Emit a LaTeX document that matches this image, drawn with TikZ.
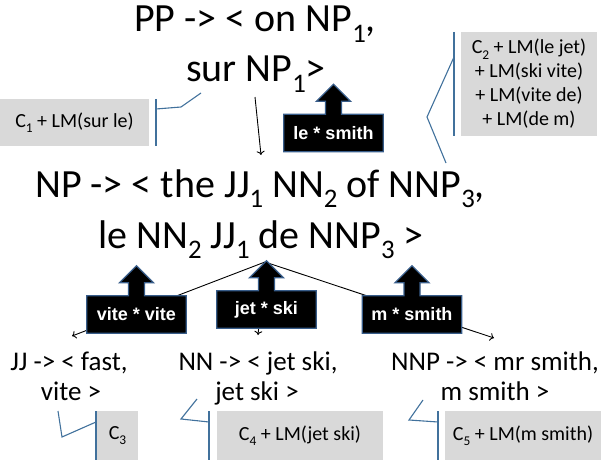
\documentclass[tikz,border=0pt]{standalone}
\usepackage{fontspec}
\usepackage{graphicx}
\setmainfont{Carlito}
\newfontfamily\arialfont{Liberation Sans}
\usetikzlibrary{arrows.meta}

\definecolor{calloutblue}{HTML}{41719C}
\definecolor{notegray}{HTML}{D9D9D9}
\definecolor{edgeblue}{HTML}{385D8A}

% lowered, reduced index as used in the rule labels
\newcommand\sbs[1]{\raisebox{-0.27em}{\scalebox{0.67}{#1}}}

\pgfdeclarelayer{background}
\pgfdeclarelayer{lines}
\pgfsetlayers{lines,background,main}

% block arrow: black label box with an upward arrow on top of it
\newcommand\blockarrow[3]{%
  \node[lbl] (#1) at (#2) {#3};
  \begin{pgfonlayer}{background}
  \path[blk] (#1.south west) -- (#1.north west) -- ([xshift=-8pt]#1.north)
    -- ++(0pt,13pt) -- ++(-9pt,0pt) -- ++(17pt,17pt) -- ++(17pt,-17pt)
    -- ++(-9pt,0pt) -- ++(0pt,-13pt) -- (#1.north east) -- (#1.south east) -- cycle;
  \end{pgfonlayer}}

\begin{document}
\begin{tikzpicture}[x=1pt,y=-1pt,
  big/.style={font=\fontsize{40}{48}\selectfont, anchor=base, inner sep=0pt},
  mid/.style={font=\fontsize{27}{32}\selectfont, anchor=base, inner sep=0pt},
  note/.style={fill=notegray, font=\fontsize{20}{24}\selectfont, inner sep=0pt, align=center},
  bar/.style={draw=calloutblue, line width=1.1pt},
  lbl/.style={font=\arialfont\bfseries\fontsize{18}{20}\selectfont, text=white,
    inner sep=0pt, minimum width=99pt, minimum height=37pt},
  blk/.style={fill=black, draw=edgeblue, line width=1.3pt, line join=miter},
  conn/.style={draw=black, line width=0.9pt, -{To[length=4pt,width=8pt]}}]
\useasboundingbox (0,0) rectangle (603,460);

% synchronous rules
\node[big] (pp1) at (255,32) {PP -> < on NP\sbs{1},};
\node[big] (pp2) at (256,82) {sur NP\sbs{1}>};
\node[big] (np1) at (260,197) {NP -> < the JJ\sbs{1} NN\sbs{2} of NNP\sbs{3},};
\node[big] (np2) at (261,248) {le NN\sbs{2} JJ\sbs{1} de NNP\sbs{3} >};
\node[mid] (jj1) at (69,370) {JJ -> < fast,};
\node[mid] (jj2) at (71,400) {vite >};
\node[mid] (nn1) at (258,370) {NN -> < jet ski,};
\node[mid] (nn2) at (257,400) {jet ski >};
\node[mid] (nnp1) at (495,370) {NNP -> < mr smith,};
\node[mid] (nnp2) at (495,400) {m smith >};

% derivation connectors
\coordinate (ppout) at (255,97);
\coordinate (npin) at (261,155);
\coordinate (apex) at (265,262);
\coordinate (jjin) at (72,336);
\coordinate (nnin) at (258,335);
\coordinate (nnpin) at (494,338);
\begin{pgfonlayer}{lines}
\draw[conn] (ppout) -- (npin);
\draw[conn] (apex) -- (jjin);
\draw[conn] (apex) -- (nnin);
\draw[conn] (apex) -- (nnpin);
\end{pgfonlayer}

% block arrows
\blockarrow{lesmith}{333.5,133}{le * smith}
\blockarrow{vitevite}{136.5,314.5}{vite * vite}
\blockarrow{jetski}{266.5,309.5}{jet * ski}
\blockarrow{msmith}{412,314.5}{m * smith}

% cost notes with their callouts
\node[note, minimum width=149pt, minimum height=47pt] (c1) at (74.5,122.5) {C\sbs{1} + LM(sur le)};
\draw[bar] (156,99) -- (156,146);
\draw[bar] (156,109) -- (181,107) -- (201,93);

\node[note, minimum width=136pt, minimum height=104pt] (c2) at (529,84)
  {C\sbs{2} + LM(le jet)\\+ LM(ski vite)\\+ LM(vite de)\\+ LM(de m)};
\draw[bar] (454,32) -- (454,136);
\draw[bar] (454,57) -- (427,117) -- (446,163);

\node[note, minimum width=41pt, minimum height=49pt] (c3) at (117.5,435.5) {C\sbs{3}};
\draw[bar] (96,411) -- (96,460);
\draw[bar] (96,422) -- (62,437) -- (58,411);

\node[note, minimum width=166pt, minimum height=49pt] (c4) at (300,435.5) {C\sbs{4} + LM(jet ski)};
\draw[bar] (209,411) -- (209,460);
\draw[bar] (209,422) -- (181,419) -- (197,399);

\node[note, minimum width=156pt, minimum height=49pt] (c5) at (523,435.5) {C\sbs{5} + LM(m smith)};
\draw[bar] (438,411) -- (438,460);
\draw[bar] (438,422) -- (409,420) -- (423,400);
\end{tikzpicture}
\end{document}
